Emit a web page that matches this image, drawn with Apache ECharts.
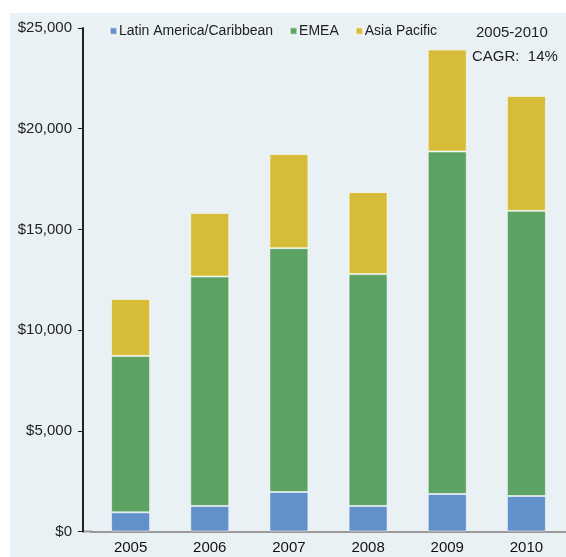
<html>
	<head>
		<meta charset="utf-8">
		<title>Revenue by region</title>
		<script src="https://cdn.jsdelivr.net/npm/echarts@6/dist/echarts.min.js"></script>
	</head>
	<style>
		body {
			margin: 0px;
			background-color: #ffffff;
		}
		#main {
			position: absolute;
			left: 10px;
			top: 13px;
			width: 556px;
			height: 544px;
			background-color: #e9f1f5;
		}
	</style>
	<body>
		<div id="main"></div>
		<script type="text/javascript">
			var years = ['2005', '2006', '2007', '2008', '2009', '2010'];
			var latam = [950, 1270, 1960, 1270, 1860, 1760];
			var emea = [7770, 11390, 12110, 11510, 17010, 14160];
			var apac = [2830, 3150, 4670, 4070, 5060, 5700];
			var yTicks = [0, 5000, 10000, 15000, 20000, 25000];

			var font = 'Liberation Sans, Arial, sans-serif';
			var border = 'rgba(255,255,255,0.55)';

			var myChart = echarts.init(document.getElementById('main'));
			var option = {
				animation: false,
				textStyle: {
					fontFamily: font
				},
				grid: {
					left: 81,
					right: 0,
					top: 15,
					bottom: 25.5
				},
				legend: {
					left: 94,
					top: 6,
					icon: 'rect',
					itemWidth: 7,
					itemHeight: 7,
					itemGap: 16,
					textStyle: {
						fontSize: 14,
						color: '#222',
						padding: [0, 0, 0, -3]
					},
					data: ['Latin America/Caribbean', 'EMEA', 'Asia Pacific']
				},
				graphic: [{
					type: 'text',
					left: 466,
					top: 12,
					style: {
						text: '2005-2010',
						font: '15px ' + font,
						fill: '#222'
					}
				}, {
					type: 'text',
					left: 462,
					top: 36,
					style: {
						text: 'CAGR:  14%',
						font: '15px ' + font,
						fill: '#222'
					}
				}, {
					// x axis line runs on under the offset y axis
					type: 'line',
					shape: { x1: 73, y1: 518.5, x2: 82, y2: 518.5 },
					style: { stroke: '#9a9a9a', lineWidth: 2 }
				}],
				xAxis: {
					type: 'category',
					data: years,
					axisLine: {
						lineStyle: {
							color: '#9a9a9a',
							width: 2
						}
					},
					axisTick: {
						show: false
					},
					axisLabel: {
						fontSize: 15,
						color: '#111',
						margin: 9
					}
				},
				yAxis: {
					type: 'value',
					min: yTicks[0],
					max: yTicks[yTicks.length - 1],
					interval: 5000,
					offset: 8,
					splitLine: {
						show: false
					},
					axisLine: {
						show: true,
						lineStyle: {
							color: '#222',
							width: 2
						}
					},
					axisTick: {
						show: true,
						length: 5,
						lineStyle: {
							color: '#222'
						}
					},
					axisLabel: {
						fontSize: 15,
						color: '#222',
						margin: 11,
						formatter: function(v) {
							return '$' + v.toLocaleString('en-US');
						}
					}
				},
				series: [{
					name: 'Latin America/Caribbean',
					type: 'bar',
					stack: 'total',
					barWidth: 39,
					itemStyle: {
						color: '#6190cb',
						borderColor: border,
						borderWidth: 1
					},
					data: latam
				}, {
					name: 'EMEA',
					type: 'bar',
					stack: 'total',
					itemStyle: {
						color: '#5ca263',
						borderColor: border,
						borderWidth: 1
					},
					data: emea
				}, {
					name: 'Asia Pacific',
					type: 'bar',
					stack: 'total',
					itemStyle: {
						color: '#d6bc37',
						borderColor: border,
						borderWidth: 1
					},
					data: apac
				}]
			};
			myChart.setOption(option);
		</script>
	</body>
</html>
